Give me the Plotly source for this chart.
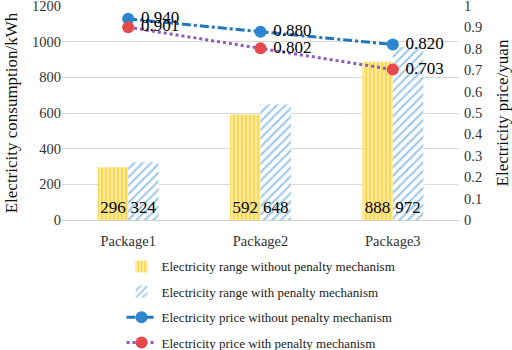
import plotly.graph_objects as go

categories = ["Package1", "Package2", "Package3"]
range_without = [296, 592, 888]
range_with = [324, 648, 972]
price_without = [0.940, 0.880, 0.820]
price_with = [0.901, 0.802, 0.703]

FONT = "Liberation Serif"

fig = go.Figure()
fig.add_trace(go.Bar(
    x=categories, y=range_without, name="Electricity range without penalty mechanism",
    marker=dict(color="#FFD84D", line=dict(width=0),
                pattern=dict(shape="|", fgcolor="#FFFFFF", bgcolor="#FFD84D", size=4, solidity=0.25)),
    text=[str(v) for v in range_without], textposition="inside", insidetextanchor="start",
    textangle=0,
    textfont=dict(family=FONT, size=17, color="black"), constraintext="none",
    legendgroup="a", yaxis="y",
))
fig.add_trace(go.Bar(
    x=categories, y=range_with, name="Electricity range with penalty mechanism",
    marker=dict(color="#FFFFFF", line=dict(width=0),
                pattern=dict(shape="/", fgcolor="#9CC7EA", bgcolor="#FFFFFF", size=6, solidity=0.35)),
    text=[str(v) for v in range_with], textposition="inside", insidetextanchor="start",
    textangle=0,
    textfont=dict(family=FONT, size=17, color="black"), constraintext="none",
    legendgroup="b", yaxis="y",
))
fig.add_trace(go.Scatter(
    x=categories, y=price_without, name="Electricity price without penalty mechanism",
    mode="lines+markers+text", yaxis="y2",
    line=dict(color="#1F77C0", width=3, dash="dashdot"),
    marker=dict(color="#2E86D0", size=12),
    text=[" %.3f" % v for v in price_without], textposition="middle right",
    textfont=dict(family=FONT, size=17, color="black"),
    legendgroup="c",
))
fig.add_trace(go.Scatter(
    x=categories, y=price_with, name="Electricity price with penalty mechanism",
    mode="lines+markers+text", yaxis="y2",
    line=dict(color="#8A5CC0", width=3, dash="dot"),
    marker=dict(color="#E5484D", size=12),
    text=[" %.3f" % v for v in price_with], textposition="middle right",
    textfont=dict(family=FONT, size=17, color="black"),
    legendgroup="d",
))

fig.update_layout(
    template="none",
    width=512, height=350,
    margin=dict(l=62, r=53, t=6, b=130, autoexpand=False),
    paper_bgcolor="white", plot_bgcolor="white",
    font=dict(family=FONT, size=15, color="#333333"),
    barmode="group", bargap=0.54, bargroupgap=0,
    showlegend=True,
    legend=dict(x=0.15, y=-0.147, xanchor="left", yanchor="top",
                font=dict(family=FONT, size=13, color="#222222"),
                tracegroupgap=5.5, bgcolor="rgba(0,0,0,0)"),
    xaxis=dict(showgrid=False, showline=True, linecolor="#D0D0D0", linewidth=1,
               tickfont=dict(family=FONT, size=14.5, color="#333333"), ticks="",
               ticklabelstandoff=8, automargin=False, zeroline=False),
    yaxis=dict(range=[0, 1200], dtick=200, showgrid=True, gridcolor="#D9D9D9",
               zeroline=False, showline=False, ticklabeloverflow="allow", automargin=False,
               ticks="",
               title=dict(text="Electricity consumption/kWh", font=dict(family=FONT, size=17, color="#111111"), standoff=10),
               tickfont=dict(family=FONT, size=14.5, color="#333333")),
    yaxis2=dict(range=[0, 1], dtick=0.1, overlaying="y", side="right", showgrid=False,
                zeroline=False, showline=False, ticklabeloverflow="allow", automargin=False,
                ticks="", ticklabelstandoff=4,
                title=dict(text="Electricity price/yuan", font=dict(family=FONT, size=17, color="#111111"), standoff=14),
                tickfont=dict(family=FONT, size=14.5, color="#333333")),
)

fig.write_html("out.html", post_script="document.body.style.margin='0';",
               config={"displayModeBar": False})
